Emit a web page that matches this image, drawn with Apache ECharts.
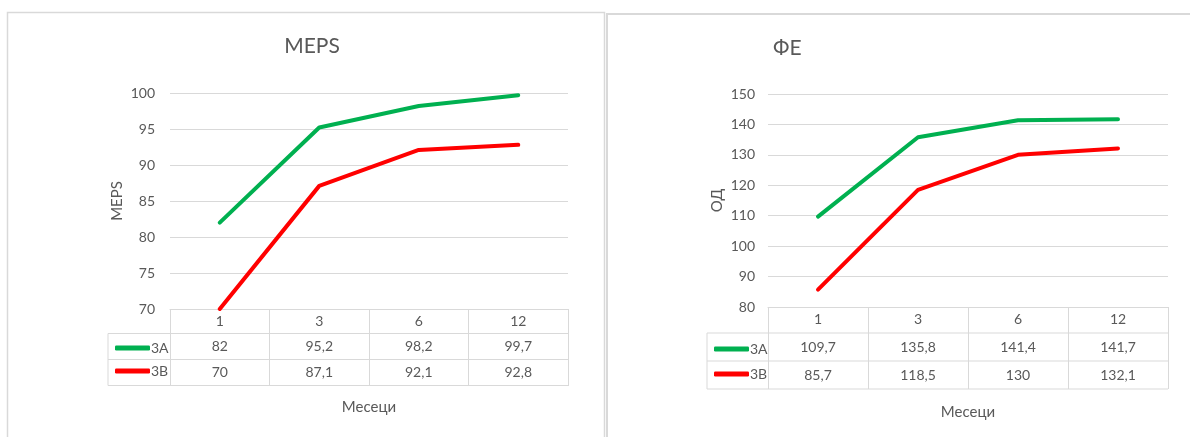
<!DOCTYPE html>
<html>
<head>
<meta charset="utf-8">
<script src="https://cdn.jsdelivr.net/npm/echarts@6/dist/echarts.min.js"></script>
<style>
  html, body { margin: 0; padding: 0; background: #fff; }
  #chart { width: 1190px; height: 437px; }
</style>
</head>
<body>
<div id="chart"></div>
<script>
// Months after treatment
const months = ['1', '3', '6', '12'];
const groupNames = ['3A', '3B'];

// MEPS scores per group
const meps3A = [82, 95.2, 98.2, 99.7];
const meps3B = [70, 87.1, 92.1, 92.8];

// ФЕ (ОД) values per group
const fe3A = [109.7, 135.8, 141.4, 141.7];
const fe3B = [85.7, 118.5, 130, 132.1];

const GREEN = '#00B050';
const RED = '#FF0000';
const TEXT = '#595959';
const LINE = '#d9d9d9';
const FONT = 'Lato, "Open Sans", sans-serif';

const fmt = v => String(v).replace('.', ',');

// Panel geometry
const P = [
  { left: 170, top: 93, width: 398, height: 216, rows: [12, 37.5, 63.5], tick: 77,
    hLines: [333.5, 359.5, 385.5], legX: 108 },
  { left: 768, top: 94, width: 400, height: 213, rows: [12.7, 40, 68], tick: 82,
    hLines: [333, 361, 389], legX: 707 }
];

const chart = echarts.init(document.getElementById('chart'), null, { renderer: 'canvas' });

function xAxesFor(gi, p) {
  const base = {
    gridIndex: gi, type: 'category', data: months, position: 'bottom',
    boundaryGap: true, axisLine: { show: false }, axisTick: { show: false },
    splitLine: { show: false }
  };
  const rowVals = [null, gi === 0 ? meps3A : fe3A, gi === 0 ? meps3B : fe3B];
  return rowVals.map((vals, r) => {
    const ax = Object.assign({}, base, {
      axisLabel: {
        interval: 0, margin: p.rows[r], verticalAlign: 'middle',
        color: TEXT, fontSize: 14, fontFamily: FONT,
        formatter: (v, i) => vals ? fmt(vals[i]) : v
      }
    });
    if (r === 0) {
      ax.axisLine = { show: true, lineStyle: { color: LINE, width: 1 } };
      ax.axisTick = { show: true, interval: 0, length: p.tick, lineStyle: { color: LINE, width: 1 } };
      ax.name = 'Месеци';
      ax.nameLocation = 'middle';
      ax.nameGap = gi === 0 ? 91 : 98;
      ax.nameTextStyle = { color: TEXT, fontSize: 15, fontFamily: FONT };
    }
    return ax;
  });
}

const yBase = {
  type: 'value',
  axisLine: { show: false }, axisTick: { show: false },
  splitLine: { lineStyle: { color: LINE, width: 1 } },
  axisLabel: { color: TEXT, fontSize: 14, fontFamily: FONT },
  nameLocation: 'middle',
  nameTextStyle: { color: TEXT, fontSize: 15, fontFamily: FONT }
};

const lineSeries = (name, data, color, gi) => ({
  name, type: 'line', data, xAxisIndex: gi * 3, yAxisIndex: gi,
  showSymbol: false, symbol: 'none', smooth: false, silent: true,
  color, lineStyle: { color, width: 4, cap: 'round', join: 'round' }
});

// Table rules and panel frames
const graphics = [
  { type: 'rect', shape: { x: 7.5, y: 12.5, width: 597, height: 440 },
    style: { fill: null, stroke: LINE, lineWidth: 1.5 }, silent: true },
  { type: 'rect', shape: { x: 607, y: 14, width: 600, height: 440 },
    style: { fill: null, stroke: LINE, lineWidth: 2 }, silent: true }
];
P.forEach(p => {
  p.hLines.forEach(y => graphics.push({
    type: 'line', shape: { x1: p.legX, y1: y, x2: p.left + p.width, y2: y },
    style: { stroke: LINE, lineWidth: 1 }, silent: true
  }));
  graphics.push({
    type: 'line', shape: { x1: p.legX, y1: p.hLines[0], x2: p.legX, y2: p.hLines[2] },
    style: { stroke: LINE, lineWidth: 1 }, silent: true
  });
});

const legendBase = {
  orient: 'vertical', data: groupNames, selectedMode: false,
  icon: 'roundRect', itemWidth: 35, itemHeight: 5, itemGap: 9,
  textStyle: { color: TEXT, fontSize: 14, fontFamily: FONT, padding: [0, 0, 0, -4] }
};

chart.setOption({
  animation: false,
  backgroundColor: '#fff',
  title: [
    { text: 'MEPS', left: 307, top: 31, textAlign: 'center',
      textStyle: { color: TEXT, fontSize: 21, fontWeight: 'normal', fontFamily: FONT } },
    { text: 'ФЕ', left: 768, top: 33,
      textStyle: { color: TEXT, fontSize: 21, fontWeight: 'normal', fontFamily: FONT } }
  ],
  legend: [
    Object.assign({}, legendBase, { left: 110, top: 336 }),
    Object.assign({}, legendBase, { left: 709, top: 337, itemGap: 11 })
  ],
  grid: P.map(p => ({ left: p.left, top: p.top, width: p.width, height: p.height })),
  xAxis: [...xAxesFor(0, P[0]), ...xAxesFor(1, P[1])],
  yAxis: [
    Object.assign({}, yBase, { gridIndex: 0, min: 70, max: 100, interval: 5,
      name: 'MEPS', nameGap: 45, axisLabel: Object.assign({}, yBase.axisLabel, { margin: 15 }) }),
    Object.assign({}, yBase, { gridIndex: 1, min: 80, max: 150, interval: 10,
      name: 'ОД', nameGap: 43, axisLabel: Object.assign({}, yBase.axisLabel, { margin: 13 }) })
  ],
  series: [
    lineSeries(groupNames[0], meps3A, GREEN, 0),
    lineSeries(groupNames[1], meps3B, RED, 0),
    lineSeries(groupNames[0], fe3A, GREEN, 1),
    lineSeries(groupNames[1], fe3B, RED, 1)
  ],
  graphic: graphics
});
</script>
</body>
</html>
